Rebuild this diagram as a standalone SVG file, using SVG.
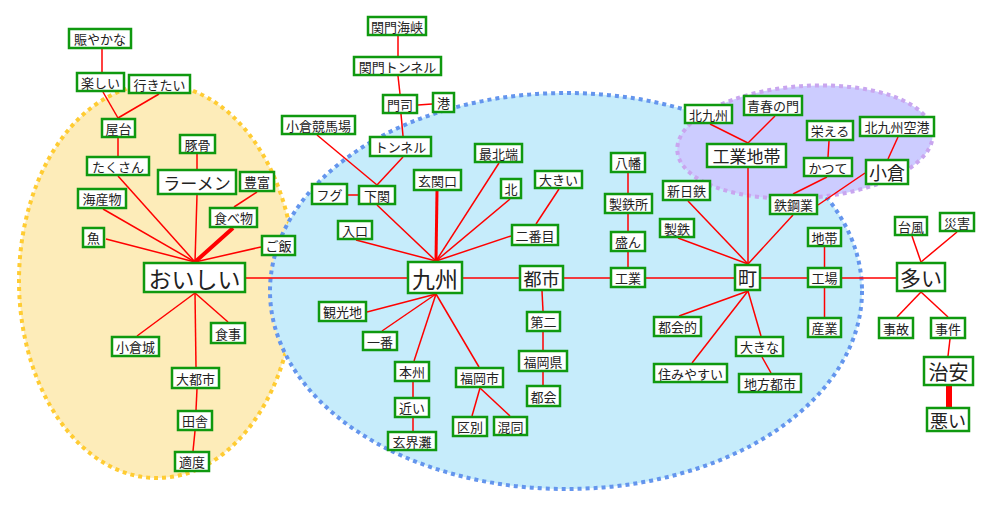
<svg xmlns="http://www.w3.org/2000/svg" width="1000" height="519" viewBox="0 0 1000 519">
<style>
.n rect{fill:#fff;stroke:#0f990f;stroke-width:2.5}
.n text{font-family:"Noto Sans CJK JP","Noto Sans",sans-serif;font-size:13px;fill:#222;text-anchor:middle;dominant-baseline:central}
.c line{stroke:#ff0000;stroke-width:1.5}
.c .t3{stroke-width:3}
.c .t4{stroke-width:4}
.c .t6{stroke-width:6}
</style>
<rect width="1000" height="519" fill="#fff"/>
<g id="regions">
<ellipse cx="157" cy="281" rx="138" ry="197" fill="#fdecb9" stroke="#ffcc33" stroke-width="4" stroke-dasharray="4 4"/>
<ellipse cx="566" cy="291" rx="296" ry="198" fill="#c6ecfb" stroke="#6495ed" stroke-width="4" stroke-dasharray="4 4"/>
<ellipse cx="805" cy="142" rx="128" ry="56" transform="rotate(-4 805 142)" fill="#ccccff" stroke="#c9a6ef" stroke-width="4" stroke-dasharray="4 4"/>
</g>
<g id="connectors" class="c">
<line x1="102" y1="49" x2="102" y2="72"/>
<line x1="103" y1="92" x2="118" y2="118"/>
<line x1="159" y1="94" x2="118" y2="118"/>
<line x1="118" y1="138" x2="118" y2="156"/>
<line x1="197" y1="154" x2="197" y2="169"/>
<line x1="257" y1="192" x2="234" y2="207"/>
<line x1="118" y1="176" x2="195" y2="262"/>
<line x1="103" y1="209" x2="195" y2="262"/>
<line x1="106" y1="239" x2="195" y2="262"/>
<line x1="197" y1="195" x2="195" y2="262"/>
<line class="t4" x1="233" y1="228" x2="195" y2="262"/>
<line x1="261" y1="247" x2="195" y2="262"/>
<line x1="246" y1="278" x2="407" y2="278"/>
<line x1="195" y1="293" x2="137" y2="336"/>
<line x1="195" y1="293" x2="228" y2="322"/>
<line x1="195" y1="293" x2="196" y2="367"/>
<line x1="197" y1="389" x2="196" y2="410"/>
<line x1="195" y1="431" x2="193" y2="451"/>
<line x1="398" y1="36" x2="398" y2="56"/>
<line x1="398" y1="76" x2="400" y2="94"/>
<line x1="418" y1="105" x2="432" y2="104"/>
<line x1="401" y1="114" x2="403" y2="136"/>
<line x1="317" y1="135" x2="377" y2="185"/>
<line x1="403" y1="157" x2="377" y2="185"/>
<line x1="348" y1="195" x2="358" y2="195"/>
<line x1="377" y1="205" x2="436" y2="261"/>
<line x1="356" y1="240" x2="436" y2="261"/>
<line class="t3" x1="437" y1="191" x2="436" y2="261"/>
<line x1="499" y1="163" x2="436" y2="261"/>
<line x1="510" y1="199" x2="436" y2="261"/>
<line x1="511" y1="236" x2="436" y2="261"/>
<line x1="559" y1="189" x2="536" y2="224"/>
<line x1="463" y1="278" x2="519" y2="278"/>
<line x1="436" y1="294" x2="367" y2="312"/>
<line x1="436" y1="294" x2="382" y2="331"/>
<line x1="436" y1="294" x2="414" y2="361"/>
<line x1="436" y1="294" x2="479" y2="367"/>
<line x1="413" y1="382" x2="413" y2="397"/>
<line x1="413" y1="418" x2="413" y2="431"/>
<line x1="480" y1="388" x2="472" y2="416"/>
<line x1="480" y1="388" x2="510" y2="416"/>
<line x1="542" y1="291" x2="543" y2="311"/>
<line x1="543" y1="332" x2="543" y2="350"/>
<line x1="543" y1="372" x2="543" y2="385"/>
<line x1="564" y1="278" x2="610" y2="278"/>
<line x1="628" y1="173" x2="628" y2="193"/>
<line x1="628" y1="214" x2="628" y2="231"/>
<line x1="628" y1="252" x2="628" y2="267"/>
<line x1="646" y1="278" x2="734" y2="278"/>
<line x1="710" y1="124" x2="748" y2="143"/>
<line x1="775" y1="116" x2="748" y2="143"/>
<line x1="748" y1="168" x2="748" y2="264"/>
<line x1="688" y1="201" x2="748" y2="264"/>
<line x1="678" y1="238" x2="748" y2="264"/>
<line x1="793" y1="215" x2="748" y2="264"/>
<line x1="829" y1="141" x2="828" y2="157"/>
<line x1="827" y1="177" x2="793" y2="194"/>
<line x1="898" y1="137" x2="888" y2="159"/>
<line x1="865" y1="173" x2="818" y2="205"/>
<line x1="748" y1="291" x2="679" y2="316"/>
<line x1="748" y1="291" x2="692" y2="363"/>
<line x1="748" y1="291" x2="761" y2="336"/>
<line x1="762" y1="357" x2="771" y2="373"/>
<line x1="761" y1="278" x2="807" y2="278"/>
<line x1="824.5" y1="247" x2="824.5" y2="267"/>
<line x1="824.5" y1="288" x2="824.5" y2="317"/>
<line x1="842" y1="278" x2="896" y2="278"/>
<line x1="912" y1="236" x2="921" y2="262"/>
<line x1="957" y1="232" x2="921" y2="262"/>
<line x1="921" y1="292" x2="897" y2="317"/>
<line x1="921" y1="292" x2="948" y2="317"/>
<line x1="950" y1="339" x2="948" y2="356"/>
<line class="t6" x1="949" y1="386" x2="949" y2="407"/>
</g>
<g id="nigiyakana" class="n"><rect x="69" y="29" width="62" height="19"/><text x="100" y="38.5">賑やかな</text></g>
<g id="tanoshii" class="n"><rect x="77" y="73" width="47" height="18"/><text x="100.5" y="82">楽しい</text></g>
<g id="ikitai" class="n"><rect x="129" y="75" width="61" height="18"/><text x="159.5" y="84">行きたい</text></g>
<g id="yatai" class="n"><rect x="102" y="119" width="33" height="18"/><text x="118.5" y="128">屋台</text></g>
<g id="tonkotsu" class="n"><rect x="180" y="135" width="35" height="18"/><text x="197.5" y="144">豚骨</text></g>
<g id="takusan" class="n"><rect x="87" y="157" width="62" height="18"/><text x="118" y="166">たくさん</text></g>
<g id="ramen" class="n"><rect x="158" y="170" width="78" height="24"/><text x="197" y="182" style="font-size:17px">ラーメン</text></g>
<g id="houfu" class="n"><rect x="240" y="172" width="34" height="19"/><text x="257" y="181.5">豊富</text></g>
<g id="kaisanbutsu" class="n"><rect x="78" y="189" width="48" height="19"/><text x="102" y="198.5">海産物</text></g>
<g id="tabemono" class="n"><rect x="210" y="208" width="47" height="19"/><text x="233.5" y="217.5">食べ物</text></g>
<g id="sakana" class="n"><rect x="83" y="228" width="21" height="19"/><text x="93.5" y="237.5">魚</text></g>
<g id="gohan" class="n"><rect x="262" y="236" width="33" height="19"/><text x="278.5" y="245.5">ご飯</text></g>
<g id="oishii" class="n"><rect x="144" y="263" width="101" height="29"/><text x="194.5" y="277.5" style="font-size:23px">おいしい</text></g>
<g id="kokurajou" class="n"><rect x="112" y="337" width="47" height="19"/><text x="135.5" y="346.5">小倉城</text></g>
<g id="shokuji" class="n"><rect x="211" y="323" width="34" height="20"/><text x="228" y="333">食事</text></g>
<g id="daitoshi" class="n"><rect x="172" y="368" width="47" height="20"/><text x="195.5" y="378">大都市</text></g>
<g id="inaka" class="n"><rect x="178" y="411" width="34" height="19"/><text x="195" y="420.5">田舎</text></g>
<g id="tekido" class="n"><rect x="175" y="452" width="34" height="19"/><text x="192" y="461.5">適度</text></g>
<g id="kanmonkaikyou" class="n"><rect x="368" y="17" width="58" height="18"/><text x="397" y="26">関門海峡</text></g>
<g id="kanmontunnel" class="n"><rect x="354" y="57" width="87" height="18"/><text x="397.5" y="66">関門トンネル</text></g>
<g id="moji" class="n"><rect x="383" y="95" width="34" height="18"/><text x="400" y="104">門司</text></g>
<g id="minato" class="n"><rect x="433" y="93" width="21" height="19"/><text x="443.5" y="102.5">港</text></g>
<g id="keibajou" class="n"><rect x="282" y="116" width="73" height="18"/><text x="318.5" y="125">小倉競馬場</text></g>
<g id="tunnel" class="n"><rect x="370" y="137" width="61" height="19"/><text x="400.5" y="146.5">トンネル</text></g>
<g id="genkanguchi" class="n"><rect x="414" y="170" width="47" height="20"/><text x="437.5" y="180">玄関口</text></g>
<g id="fugu" class="n"><rect x="312" y="184" width="35" height="20"/><text x="329.5" y="194">フグ</text></g>
<g id="shimonoseki" class="n"><rect x="359" y="186" width="36" height="18"/><text x="377" y="195">下関</text></g>
<g id="saihokutan" class="n"><rect x="475" y="144" width="47" height="18"/><text x="498.5" y="153">最北端</text></g>
<g id="kita" class="n"><rect x="501" y="179" width="20" height="19"/><text x="511" y="188.5">北</text></g>
<g id="ookii" class="n"><rect x="535" y="171" width="47" height="17"/><text x="558.5" y="179.5">大きい</text></g>
<g id="iriguchi" class="n"><rect x="338" y="221" width="34" height="18"/><text x="355" y="230">入口</text></g>
<g id="nibanme" class="n"><rect x="512" y="225" width="46" height="20"/><text x="535" y="235">二番目</text></g>
<g id="kyushu" class="n"><rect x="408" y="262" width="54" height="31"/><text x="435" y="277.5" style="font-size:23px">九州</text></g>
<g id="toshi" class="n"><rect x="520" y="266" width="43" height="24"/><text x="541.5" y="278" style="font-size:18px">都市</text></g>
<g id="kankouchi" class="n"><rect x="319" y="302" width="47" height="19"/><text x="342.5" y="311.5">観光地</text></g>
<g id="ichiban" class="n"><rect x="363" y="332" width="34" height="18"/><text x="380" y="341">一番</text></g>
<g id="honshu" class="n"><rect x="395" y="362" width="34" height="19"/><text x="412" y="371.5">本州</text></g>
<g id="fukuokashi" class="n"><rect x="456" y="368" width="47" height="19"/><text x="479.5" y="377.5">福岡市</text></g>
<g id="daini" class="n"><rect x="527" y="312" width="33" height="19"/><text x="543.5" y="321.5">第二</text></g>
<g id="fukuokaken" class="n"><rect x="519" y="351" width="48" height="20"/><text x="543" y="361">福岡県</text></g>
<g id="tokai" class="n"><rect x="527" y="386" width="33" height="20"/><text x="543.5" y="396">都会</text></g>
<g id="chikai" class="n"><rect x="395" y="398" width="34" height="19"/><text x="412" y="407.5">近い</text></g>
<g id="kubetsu" class="n"><rect x="453" y="417" width="34" height="19"/><text x="470" y="426.5">区別</text></g>
<g id="kondou" class="n"><rect x="494" y="417" width="33" height="18"/><text x="510.5" y="426">混同</text></g>
<g id="genkainada" class="n"><rect x="388" y="432" width="48" height="18"/><text x="412" y="441">玄界灘</text></g>
<g id="kitakyushu" class="n"><rect x="685" y="105" width="47" height="18"/><text x="708.5" y="114">北九州</text></g>
<g id="seishunnomon" class="n"><rect x="744" y="96" width="58" height="19"/><text x="773" y="105.5">青春の門</text></g>
<g id="kougyouchitai" class="n"><rect x="707" y="144" width="79" height="23"/><text x="746.5" y="155.5" style="font-size:17px">工業地帯</text></g>
<g id="sakaeru" class="n"><rect x="807" y="121" width="46" height="19"/><text x="830" y="130.5">栄える</text></g>
<g id="katsute" class="n"><rect x="804" y="158" width="48" height="18"/><text x="828" y="167">かつて</text></g>
<g id="kuukou" class="n"><rect x="860" y="117" width="74" height="19"/><text x="897" y="126.5">北九州空港</text></g>
<g id="kokura" class="n"><rect x="866" y="160" width="42" height="24"/><text x="887" y="172" style="font-size:18px">小倉</text></g>
<g id="tekkougyou" class="n"><rect x="770" y="195" width="47" height="19"/><text x="793.5" y="204.5">鉄鋼業</text></g>
<g id="yahata" class="n"><rect x="611" y="153" width="34" height="19"/><text x="628" y="162.5">八幡</text></g>
<g id="seitetsujo" class="n"><rect x="605" y="194" width="47" height="19"/><text x="628.5" y="203.5">製鉄所</text></g>
<g id="sakan" class="n"><rect x="611" y="232" width="34" height="19"/><text x="628" y="241.5">盛ん</text></g>
<g id="kougyou" class="n"><rect x="611" y="268" width="34" height="19"/><text x="628" y="277.5">工業</text></g>
<g id="shinnittetsu" class="n"><rect x="663" y="181" width="47" height="19"/><text x="686.5" y="190.5">新日鉄</text></g>
<g id="seitetsu" class="n"><rect x="660" y="219" width="34" height="18"/><text x="677" y="228">製鉄</text></g>
<g id="machi" class="n"><rect x="735" y="265" width="25" height="25"/><text x="747.5" y="277.5" style="font-size:19px">町</text></g>
<g id="chitai" class="n"><rect x="808" y="228" width="33" height="18"/><text x="824.5" y="237">地帯</text></g>
<g id="koujou" class="n"><rect x="808" y="268" width="33" height="19"/><text x="824.5" y="277.5">工場</text></g>
<g id="sangyou" class="n"><rect x="808" y="318" width="33" height="19"/><text x="824.5" y="327.5">産業</text></g>
<g id="tokaiteki" class="n"><rect x="654" y="317" width="47" height="19"/><text x="677.5" y="326.5">都会的</text></g>
<g id="ookina" class="n"><rect x="736" y="337" width="47" height="19"/><text x="759.5" y="346.5">大きな</text></g>
<g id="sumiyasui" class="n"><rect x="654" y="364" width="73" height="18"/><text x="690.5" y="373">住みやすい</text></g>
<g id="chihoutoshi" class="n"><rect x="739" y="374" width="62" height="18"/><text x="770" y="383">地方都市</text></g>
<g id="taifuu" class="n"><rect x="895" y="217" width="32" height="18"/><text x="911" y="226">台風</text></g>
<g id="saigai" class="n"><rect x="940" y="213" width="34" height="18"/><text x="957" y="222">災害</text></g>
<g id="ooi" class="n"><rect x="897" y="263" width="48" height="28"/><text x="921" y="277" style="font-size:21px">多い</text></g>
<g id="jiko" class="n"><rect x="879" y="318" width="34" height="20"/><text x="896" y="328">事故</text></g>
<g id="jiken" class="n"><rect x="931" y="318" width="34" height="20"/><text x="948" y="328">事件</text></g>
<g id="chian" class="n"><rect x="924" y="357" width="49" height="28"/><text x="948.5" y="371" style="font-size:20px">治安</text></g>
<g id="warui" class="n"><rect x="927" y="408" width="42" height="23"/><text x="948" y="419.5" style="font-size:18px">悪い</text></g>
</svg>
